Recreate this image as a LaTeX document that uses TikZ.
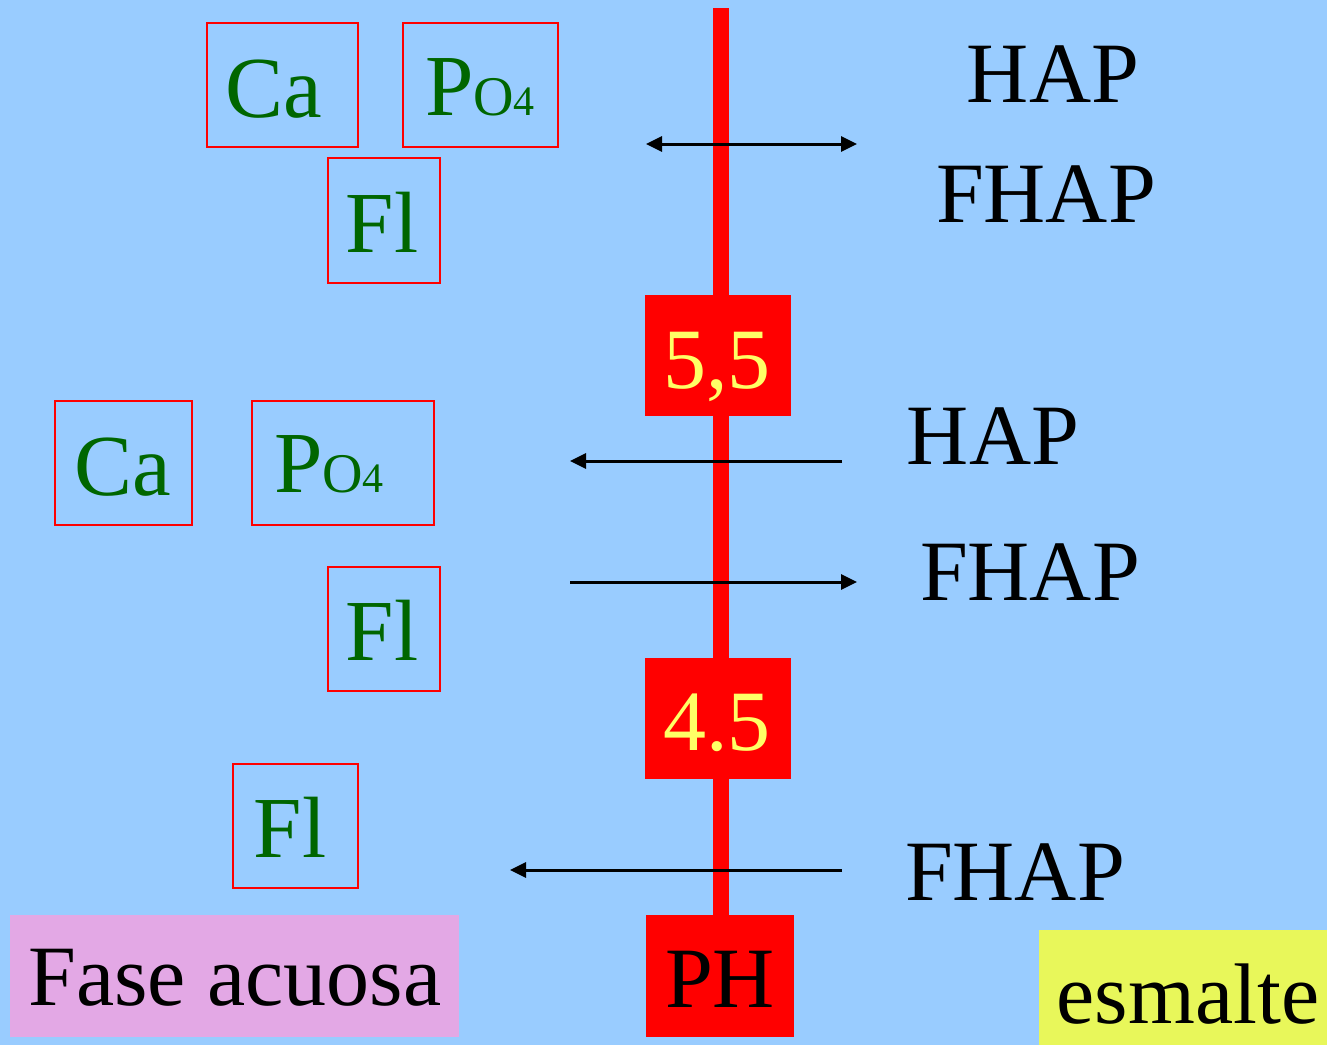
\documentclass[tikz,border=0pt]{standalone}
\usepackage{fontspec}
\setmainfont{Liberation Serif}
\usetikzlibrary{arrows.meta}
\definecolor{bg}{HTML}{99CCFF}
\definecolor{grn}{HTML}{006600}
\definecolor{ylw}{HTML}{FFFF66}
\definecolor{pinkbox}{HTML}{E3A8E5}
\definecolor{yelbox}{HTML}{E8F75A}
\begin{document}
\begin{tikzpicture}[x=1pt,y=-1pt,
  ionbox/.style={draw=red,line width=1.5pt,inner sep=0pt},
  iontext/.style={anchor=base,inner sep=0pt,text=grn,font=\fontsize{87}{87}\selectfont},
  phbox/.style={fill=red,draw=none,inner sep=0pt},
  phtext/.style={anchor=base,inner sep=0pt,text=ylw,font=\fontsize{86}{86}\selectfont},
  bigtext/.style={anchor=base,inner sep=0pt,text=black,font=\fontsize{86}{86}\selectfont},
  arr/.style={line width=3pt,-{Triangle[length=16pt,width=15pt]}},
  darr/.style={line width=3pt,{Triangle[length=16pt,width=15pt]}-{Triangle[length=16pt,width=15pt]}}
]
\fill[bg] (0,0) rectangle (1327,1045);
\useasboundingbox (0,0) rectangle (1327,1045);

% red axis
\coordinate (axtop) at (721,8);
\coordinate (axbot) at (721,930);
\draw[red,line width=16pt] (axtop) -- (axbot);

% pH boxes
\node[phbox,minimum width=146pt,minimum height=121pt] (b55) at (718,355.5) {};
\node[phtext] (t55) at (717,388) {5,5};
\node[phbox,minimum width=146pt,minimum height=121pt] (b45) at (718,718.5) {};
\node[phtext] (t45) at (717,750) {4.5};
\node[phbox,minimum width=148pt,minimum height=122pt] (bph) at (720,976) {};
\node[phtext,text=black] (tph) at (720,1007) {PH};

% ion boxes (top group)
\draw[ionbox] (207,23) rectangle (358,147);
\node[iontext] (ca1) at (274,117) {Ca};
\draw[ionbox] (403,23) rectangle (558,147);
\node[iontext] (po1) at (480,115) {P{\fontsize{56}{56}\selectfont O}{\fontsize{42}{42}\selectfont 4}};
\draw[ionbox] (328,158) rectangle (440,283);
\node[iontext] (fl1) at (382,252) {Fl};

% ion boxes (middle group)
\draw[ionbox] (55,401) rectangle (192,525);
\node[iontext] (ca2) at (123,495) {Ca};
\draw[ionbox] (252,401) rectangle (434,525);
\node[iontext] (po2) at (329,492) {P{\fontsize{56}{56}\selectfont O}{\fontsize{42}{42}\selectfont 4}};
\draw[ionbox] (328,567) rectangle (440,691);
\node[iontext] (fl2) at (382,660) {Fl};

% ion box (bottom)
\draw[ionbox] (233,764) rectangle (358,888);
\node[iontext] (fl3) at (290,857) {Fl};

% right labels
\node[bigtext] (hap1) at (1053,102) {HAP};
\node[bigtext] (fhap1) at (1046,222) {FHAP};
\node[bigtext] (hap2) at (993,464) {HAP};
\node[bigtext] (fhap2) at (1030,600) {FHAP};
\node[bigtext] (fhap3) at (1015,900) {FHAP};

% arrows
\coordinate (a1l) at (646,144);
\coordinate (a1r) at (857,144);
\draw[darr] (a1l) -- (a1r);
\coordinate (a2r) at (842,461);
\coordinate (a2l) at (570,461);
\draw[arr] (a2r) -- (a2l);
\coordinate (a3l) at (570,582);
\coordinate (a3r) at (857,582);
\draw[arr] (a3l) -- (a3r);
\coordinate (a4r) at (842,870);
\coordinate (a4l) at (510,870);
\draw[arr] (a4r) -- (a4l);

% bottom labels
\fill[pinkbox] (10,915) rectangle (459,1037);
\node[bigtext] (fase) at (235,1005) {Fase acuosa};
\fill[yelbox] (1039,930) rectangle (1327,1045);
\node[bigtext] (esm) at (1188,1023) {esmalte};
\end{tikzpicture}
\end{document}
